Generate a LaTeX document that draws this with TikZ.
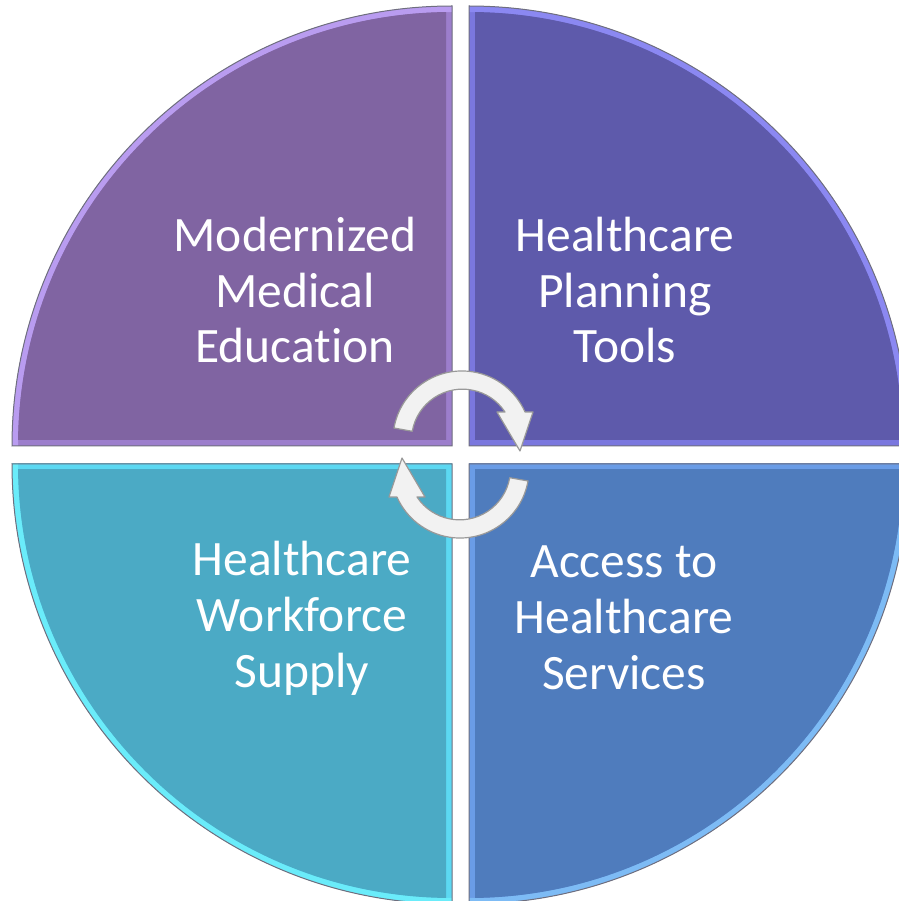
\documentclass[tikz,border=0pt]{standalone}
\usepackage{fontspec}
\setmainfont{Carlito}[Ligatures=CommonOff]
\usetikzlibrary{calc}

\definecolor{eduMain}{HTML}{8064A2}
\definecolor{eduSide}{HTML}{9C7ECC}
\definecolor{eduRim}{HTML}{B99CF0}
\definecolor{planMain}{HTML}{5E5AAB}
\definecolor{planSide}{HTML}{7A77DE}
\definecolor{planRim}{HTML}{8B88F2}
\definecolor{supMain}{HTML}{4BAAC5}
\definecolor{supSide}{HTML}{5CD8F2}
\definecolor{supRim}{HTML}{6AECFA}
\definecolor{accMain}{HTML}{4F7CBD}
\definecolor{accSide}{HTML}{6A9CE6}
\definecolor{accRim}{HTML}{7DBBF5}
\definecolor{edgeline}{HTML}{6E6E7E}

\begin{document}
\begin{tikzpicture}[x=0.5pt,y=0.5pt,
  quadtext/.style={text=white,font=\fontsize{24.75}{28}\selectfont,align=center,inner sep=0pt},
  cyclearrow/.style={fill=white!95!black,draw=black!40,line width=0.6pt,line join=round}]
\useasboundingbox (0,0) rectangle (899,901);
\clip (0,0) rectangle (899,901);

% four quarter discs with a bevelled rim
\foreach \cx/\cy/\sx/\sy/\sa/\ea/\q in {452/455/-1/1/180/90/edu, 469/455/1/1/0/90/plan,
    452/437/-1/-1/180/270/sup, 469/437/1/-1/0/-90/acc}{
  \begin{scope}
    \clip (\cx,\cy) rectangle ++(440*\sx,440*\sy);
    \fill[\q Side] (\cx,\cy) circle[radius=440];
    \draw[\q Rim,line width=3pt] (\cx,\cy) circle[radius=437];
    \clip (\cx+6*\sx,\cy+6*\sy) rectangle ++(440*\sx,440*\sy);
    \fill[\q Main] (\cx,\cy) circle[radius=434];
  \end{scope}
  \draw[edgeline,line width=0.5pt] (\cx,\cy) -- ++(440*\sx,0)
    arc[start angle=\sa,end angle=\ea,radius=440] -- cycle;
}

\node[quadtext] (edu) at (295,611) {Modernized\\Medical\\Education};
\node[quadtext] (plan) at (625,611) {Healthcare\\Planning\\Tools};
\node[quadtext] (sup) at (302,283) {Healthcare\\Workforce\\Supply};
\node[quadtext] (acc) at (624,283) {Access to\\Healthcare\\Services};

% cycle arrows in the middle
\coordinate (mid) at (461,446.5);
\foreach \r in {0,180}
  \filldraw[cyclearrow,rotate around={\r:(mid)}] (394.0,473.0)
    arc[start angle=170,end angle=24,radius=69] -- (533,489) -- (520,450)
    -- (497,489) -- (505.0,489) arc[start angle=33.5,end angle=170,radius=51] -- cycle;
\end{tikzpicture}
\end{document}
